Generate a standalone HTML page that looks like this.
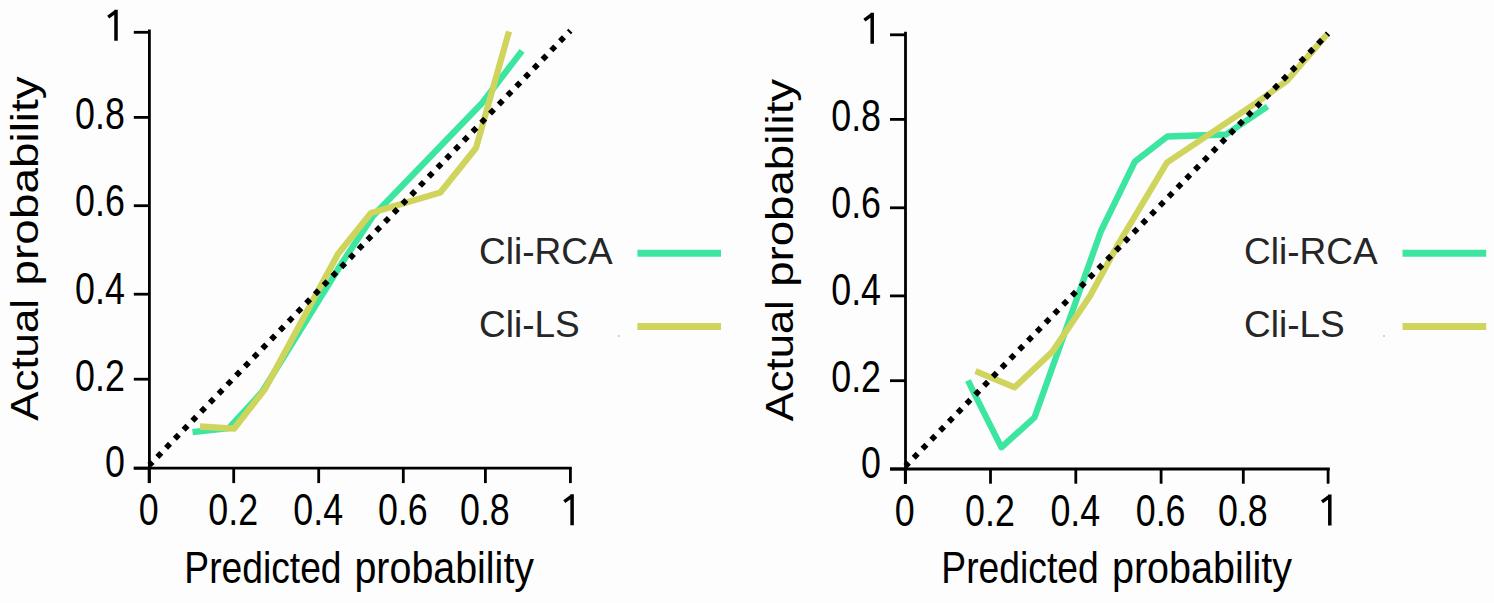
<!DOCTYPE html>
<html><head><meta charset="utf-8"><style>
html,body{margin:0;padding:0;background:#fdfdfd;}
svg{display:block;}
text{font-family:"Liberation Sans", sans-serif;}
</style></head><body>
<svg width="1494" height="603" viewBox="0 0 1494 603">
<rect x="0" y="0" width="1494" height="603" fill="#fdfdfd"/>

<polyline points="192.5,432.2 229.0,428.0 262.0,392.0 340.0,266.0 373.0,216.0 481.4,103.8 522.0,50.8" fill="none" stroke="#3ce6a0" stroke-width="6.3" stroke-linejoin="round" stroke-linecap="butt"/>
<polyline points="200.0,426.5 234.0,428.7 265.0,389.0 338.0,254.0 371.0,213.0 440.3,192.5 476.0,148.0 509.0,31.5" fill="none" stroke="#cfd45c" stroke-width="6.3" stroke-linejoin="round" stroke-linecap="butt"/>
<line x1="149.4" y1="465.1" x2="570.4" y2="30.7" stroke="#000" stroke-width="5.7" stroke-dasharray="5.6 6.98" stroke-dashoffset="1.16"/>
<g stroke="#000" stroke-width="2.8" fill="none">
<line x1="149.4" y1="29.5" x2="149.4" y2="483.1"/>
<line x1="133.8" y1="468.2" x2="571.8" y2="468.2"/>
<line x1="133.8" y1="32.3" x2="149.4" y2="32.3"/>
<line x1="133.8" y1="117.4" x2="149.4" y2="117.4"/>
<line x1="133.8" y1="205.7" x2="149.4" y2="205.7"/>
<line x1="133.8" y1="294.2" x2="149.4" y2="294.2"/>
<line x1="133.8" y1="379.2" x2="149.4" y2="379.2"/>
<line x1="133.8" y1="468.2" x2="149.4" y2="468.2"/>
<line x1="149.1" y1="468.2" x2="149.1" y2="483.1"/>
<line x1="233.7" y1="468.2" x2="233.7" y2="483.1"/>
<line x1="318.7" y1="468.2" x2="318.7" y2="483.1"/>
<line x1="403.3" y1="468.2" x2="403.3" y2="483.1"/>
<line x1="485.4" y1="468.2" x2="485.4" y2="483.1"/>
<line x1="570.4" y1="468.2" x2="570.4" y2="483.1"/>
</g>
<path d="M108.2,17.2 L116.0,11.4 M116.0,9.8 L116.0,40.8" stroke="#000" stroke-width="3.5" fill="none" stroke-linecap="butt"/>
<text transform="translate(124.8,129.0) scale(0.81,1)" font-size="44.2" text-anchor="end" fill="#000">0.8</text>
<text transform="translate(124.8,216.1) scale(0.81,1)" font-size="44.2" text-anchor="end" fill="#000">0.6</text>
<text transform="translate(124.8,303.6) scale(0.81,1)" font-size="44.2" text-anchor="end" fill="#000">0.4</text>
<text transform="translate(124.8,390.7) scale(0.81,1)" font-size="44.2" text-anchor="end" fill="#000">0.2</text>
<text transform="translate(124.8,477.3) scale(0.81,1)" font-size="44.2" text-anchor="end" fill="#000">0</text>
<text transform="translate(148.6,525.2) scale(0.81,1)" font-size="44.2" text-anchor="middle" fill="#000">0</text>
<text transform="translate(233.2,525.2) scale(0.81,1)" font-size="44.2" text-anchor="middle" fill="#000">0.2</text>
<text transform="translate(318.2,525.2) scale(0.81,1)" font-size="44.2" text-anchor="middle" fill="#000">0.4</text>
<text transform="translate(402.8,525.2) scale(0.81,1)" font-size="44.2" text-anchor="middle" fill="#000">0.6</text>
<text transform="translate(484.9,525.2) scale(0.81,1)" font-size="44.2" text-anchor="middle" fill="#000">0.8</text>
<path d="M564.3,501.6 L572.1,495.8 M572.1,494.2 L572.1,525.2" stroke="#000" stroke-width="3.5" fill="none" stroke-linecap="butt"/>
<text transform="translate(184.35,583.0) scale(0.8272,1)" font-size="45" fill="#000">Predicted</text>
<text transform="translate(354.46,583.0) scale(0.8757,1)" font-size="45" fill="#000">probability</text>
<text transform="translate(37.8,420.79) scale(0.858,0.9748) rotate(-90)" font-size="45" fill="#000">Actual</text>
<text transform="translate(37.8,285.46) scale(0.858,1.0206) rotate(-90)" font-size="45" fill="#000">probability</text>
<text x="479.0" y="263.6" font-size="37" fill="#262626">Cli-RCA</text>
<text x="479.0" y="337.4" font-size="37" fill="#262626">Cli-LS</text>
<line x1="637.4" y1="253.3" x2="721.0" y2="253.3" stroke="#3ce6a0" stroke-width="7"/>
<line x1="637.4" y1="326.5" x2="721.0" y2="326.5" stroke="#cfd45c" stroke-width="7"/>
<polyline points="968.0,380.5 975.0,395.0 1001.4,447.3 1034.5,417.5 1101.0,231.0 1135.0,161.4 1167.3,136.5 1226.0,134.5 1267.5,106.5" fill="none" stroke="#3ce6a0" stroke-width="6.3" stroke-linejoin="round" stroke-linecap="butt"/>
<polyline points="975.5,371.2 1014.7,387.3 1052.5,351.5 1090.0,296.0 1118.0,244.5 1167.0,162.5 1256.0,103.0 1287.0,80.8 1327.8,33.5" fill="none" stroke="#cfd45c" stroke-width="6.3" stroke-linejoin="round" stroke-linecap="butt"/>
<line x1="905.5" y1="466.1" x2="1328.1" y2="33.5" stroke="#000" stroke-width="5.7" stroke-dasharray="5.6 6.98" stroke-dashoffset="0.78"/>
<g stroke="#000" stroke-width="2.8" fill="none">
<line x1="905.5" y1="31.8" x2="905.5" y2="483.7"/>
<line x1="890.0" y1="469.0" x2="1329.8" y2="469.0"/>
<line x1="890.0" y1="34.8" x2="905.5" y2="34.8"/>
<line x1="890.0" y1="119.4" x2="905.5" y2="119.4"/>
<line x1="890.0" y1="207.8" x2="905.5" y2="207.8"/>
<line x1="890.0" y1="295.9" x2="905.5" y2="295.9"/>
<line x1="890.0" y1="380.7" x2="905.5" y2="380.7"/>
<line x1="890.0" y1="469.0" x2="905.5" y2="469.0"/>
<line x1="905.3" y1="469.0" x2="905.3" y2="483.7"/>
<line x1="990.5" y1="469.0" x2="990.5" y2="483.7"/>
<line x1="1075.8" y1="469.0" x2="1075.8" y2="483.7"/>
<line x1="1161.1" y1="469.0" x2="1161.1" y2="483.7"/>
<line x1="1243.3" y1="469.0" x2="1243.3" y2="483.7"/>
<line x1="1328.1" y1="469.0" x2="1328.1" y2="483.7"/>
</g>
<path d="M864.4,20.2 L872.2,14.4 M872.2,12.8 L872.2,43.8" stroke="#000" stroke-width="3.5" fill="none" stroke-linecap="butt"/>
<text transform="translate(881.0,131.0) scale(0.81,1)" font-size="44.2" text-anchor="end" fill="#000">0.8</text>
<text transform="translate(881.0,218.1) scale(0.81,1)" font-size="44.2" text-anchor="end" fill="#000">0.6</text>
<text transform="translate(881.0,304.8) scale(0.81,1)" font-size="44.2" text-anchor="end" fill="#000">0.4</text>
<text transform="translate(881.0,391.5) scale(0.81,1)" font-size="44.2" text-anchor="end" fill="#000">0.2</text>
<text transform="translate(881.0,478.3) scale(0.81,1)" font-size="44.2" text-anchor="end" fill="#000">0</text>
<text transform="translate(904.8,525.5) scale(0.81,1)" font-size="44.2" text-anchor="middle" fill="#000">0</text>
<text transform="translate(990.0,525.5) scale(0.81,1)" font-size="44.2" text-anchor="middle" fill="#000">0.2</text>
<text transform="translate(1075.3,525.5) scale(0.81,1)" font-size="44.2" text-anchor="middle" fill="#000">0.4</text>
<text transform="translate(1160.6,525.5) scale(0.81,1)" font-size="44.2" text-anchor="middle" fill="#000">0.6</text>
<text transform="translate(1242.8,525.5) scale(0.81,1)" font-size="44.2" text-anchor="middle" fill="#000">0.8</text>
<path d="M1322.0,501.9 L1329.8,496.1 M1329.8,494.5 L1329.8,525.5" stroke="#000" stroke-width="3.5" fill="none" stroke-linecap="butt"/>
<text transform="translate(941.35,583.0) scale(0.8277,1)" font-size="45" fill="#000">Predicted</text>
<text transform="translate(1111.95,583.0) scale(0.8781,1)" font-size="45" fill="#000">probability</text>
<text transform="translate(793.4,421.29) scale(0.858,0.9683) rotate(-90)" font-size="45" fill="#000">Actual</text>
<text transform="translate(793.4,286.84) scale(0.858,1.0142) rotate(-90)" font-size="45" fill="#000">probability</text>
<text x="1244.0" y="263.6" font-size="37" fill="#262626">Cli-RCA</text>
<text x="1244.0" y="337.4" font-size="37" fill="#262626">Cli-LS</text>
<line x1="1402.5" y1="253.3" x2="1486.2" y2="253.3" stroke="#3ce6a0" stroke-width="7"/>
<line x1="1402.5" y1="326.5" x2="1486.2" y2="326.5" stroke="#cfd45c" stroke-width="7"/>
<circle cx="618.8" cy="336" r="0.8" fill="#999"/>
<circle cx="1384" cy="336" r="0.8" fill="#999"/>
</svg></body></html>
